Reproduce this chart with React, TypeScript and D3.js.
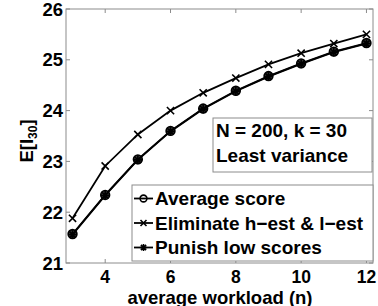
import { useEffect, useRef } from "react";
import * as d3 from "d3";

const workload = [3, 4, 5, 6, 7, 8, 9, 10, 11, 12];
const averageScore = [21.57, 22.34, 23.04, 23.6, 24.04, 24.39, 24.68, 24.93, 25.16, 25.33];
const eliminateEst = [21.88, 22.91, 23.53, 24.0, 24.35, 24.64, 24.91, 25.13, 25.32, 25.5];
const punishLow = [21.56, 22.33, 23.03, 23.59, 24.03, 24.38, 24.67, 24.92, 25.15, 25.32];
const xTicks = [4, 6, 8, 10, 12];
const yTicks = [21, 22, 23, 24, 25, 26];
const legendLabels = ["Average score", "Eliminate h\u2212est & l\u2212est", "Punish low scores"];
const infoLines = ["N = 200, k = 30", "Least variance"];

const FONT = "'Liberation Sans', Arial, Helvetica, sans-serif";

export default function App() {
  const svgRef = useRef<SVGSVGElement>(null);

  useEffect(() => {
    if (!svgRef.current) return;
    const svg = d3.select(svgRef.current);
    svg.selectAll("*").remove();

    const left = 66, right = 373, top = 9, bottom = 263;
    const x = d3.scaleLinear().domain([2.8, 12.2]).range([left, right]);
    const y = d3.scaleLinear().domain([21, 26]).range([bottom, top]);

    svg.append("rect").attr("width", 378).attr("height", 306).attr("fill", "#fff");

    // axes box, ticks inside on all four sides
    const axisColor = "#8c8c8c";
    svg.append("rect")
      .attr("x", left).attr("y", top)
      .attr("width", right - left).attr("height", bottom - top)
      .attr("fill", "none").attr("stroke", axisColor).attr("stroke-width", 1);

    const tl = 4;
    xTicks.forEach((t) => {
      svg.append("line").attr("x1", x(t)).attr("x2", x(t)).attr("y1", bottom).attr("y2", bottom - tl)
        .attr("stroke", axisColor);
      svg.append("line").attr("x1", x(t)).attr("x2", x(t)).attr("y1", top).attr("y2", top + tl)
        .attr("stroke", axisColor);
      svg.append("text")
        .attr("x", x(t)).attr("y", 282.5)
        .attr("text-anchor", "middle")
        .attr("font-family", FONT).attr("font-weight", "bold").attr("font-size", 17.5)
        .attr("fill", "#000")
        .text(t);
    });
    yTicks.forEach((t) => {
      svg.append("line").attr("x1", left).attr("x2", left + tl).attr("y1", y(t)).attr("y2", y(t))
        .attr("stroke", axisColor);
      svg.append("line").attr("x1", right).attr("x2", right - tl).attr("y1", y(t)).attr("y2", y(t))
        .attr("stroke", axisColor);
      svg.append("text")
        .attr("x", 63).attr("y", y(t) + 6.5)
        .attr("text-anchor", "end")
        .attr("font-family", FONT).attr("font-weight", "bold").attr("font-size", 18.5)
        .attr("fill", "#000")
        .text(t);
    });

    // axis labels
    svg.append("text")
      .attr("x", 220).attr("y", 303.5)
      .attr("text-anchor", "middle")
      .attr("font-family", FONT).attr("font-weight", "bold").attr("font-size", 18.5)
      .text("average workload (n)");

    const yl = svg.append("text")
      .attr("transform", "translate(33,141) rotate(-90)")
      .attr("text-anchor", "middle")
      .attr("font-family", FONT).attr("font-weight", "bold").attr("font-size", 18.5);
    yl.append("tspan").text("E[I");
    yl.append("tspan").attr("dy", 3.5).attr("font-size", 12).text("30");
    yl.append("tspan").attr("dy", -3.5).text("]");

    const line = d3.line<number>()
      .x((_, i) => x(workload[i]))
      .y((d) => y(d));

    const drawCircle = (g: any, cx: number, cy: number, r: number, fill: string) => {
      g.append("circle").attr("cx", cx).attr("cy", cy).attr("r", r)
        .attr("fill", fill).attr("stroke", "#000").attr("stroke-width", 1.6);
    };
    const drawX = (g: any, cx: number, cy: number, s: number) => {
      g.append("path")
        .attr("d", `M${cx - s},${cy - s}L${cx + s},${cy + s}M${cx - s},${cy + s}L${cx + s},${cy - s}`)
        .attr("stroke", "#000").attr("stroke-width", 1.6).attr("fill", "none");
    };
    const drawStar = (g: any, cx: number, cy: number, s: number) => {
      const d = s * 0.72;
      g.append("path")
        .attr("d", `M${cx - s},${cy}L${cx + s},${cy}M${cx},${cy - s}L${cx},${cy + s}M${cx - d},${cy - d}L${cx + d},${cy + d}M${cx - d},${cy + d}L${cx + d},${cy - d}`)
        .attr("stroke", "#000").attr("stroke-width", 1.6).attr("fill", "none");
    };

    const series = [
      { values: averageScore, marker: (g: any, cx: number, cy: number) => drawCircle(g, cx, cy, 4.4, "#3a3a3a") },
      { values: eliminateEst, marker: (g: any, cx: number, cy: number) => drawX(g, cx, cy, 3.6) },
      { values: punishLow, marker: (g: any, cx: number, cy: number) => drawStar(g, cx, cy, 4.4) },
    ];

    const plot = svg.append("g");
    series.forEach((s) => {
      plot.append("path").datum(s.values)
        .attr("d", line)
        .attr("fill", "none").attr("stroke", "#000").attr("stroke-width", 1.8);
      s.values.forEach((v, i) => s.marker(plot, x(workload[i]), y(v)));
    });

    // info box
    svg.append("rect")
      .attr("x", 213).attr("y", 118).attr("width", 159).attr("height", 54)
      .attr("fill", "#fff").attr("stroke", axisColor);
    infoLines.forEach((t, i) => {
      svg.append("text")
        .attr("x", 216).attr("y", 137 + i * 25)
        .attr("font-family", FONT).attr("font-weight", "bold").attr("font-size", 19)
        .text(t);
    });

    // legend
    svg.append("rect")
      .attr("x", 132).attr("y", 185).attr("width", 241).attr("height", 76)
      .attr("fill", "#fff").attr("stroke", axisColor);
    const legendMarkers = [
      (g: any, cx: number, cy: number) => drawCircle(g, cx, cy, 3.4, "none"),
      (g: any, cx: number, cy: number) => drawX(g, cx, cy, 3),
      (g: any, cx: number, cy: number) => drawStar(g, cx, cy, 3.6),
    ];
    legendLabels.forEach((label, i) => {
      const cy = 198.5 + i * 24.5;
      svg.append("line").attr("x1", 134).attr("x2", 153).attr("y1", cy).attr("y2", cy)
        .attr("stroke", "#000").attr("stroke-width", 1.8);
      legendMarkers[i](svg, 143.5, cy);
      svg.append("text")
        .attr("x", 155).attr("y", cy + 6.5)
        .attr("font-family", FONT).attr("font-weight", "bold").attr("font-size", 19)
        .text(label);
    });
  }, []);

  return (
    <svg
      ref={svgRef}
      width={378}
      height={306}
      style={{ position: "absolute", left: 0, top: 0, display: "block" }}
    />
  );
}
